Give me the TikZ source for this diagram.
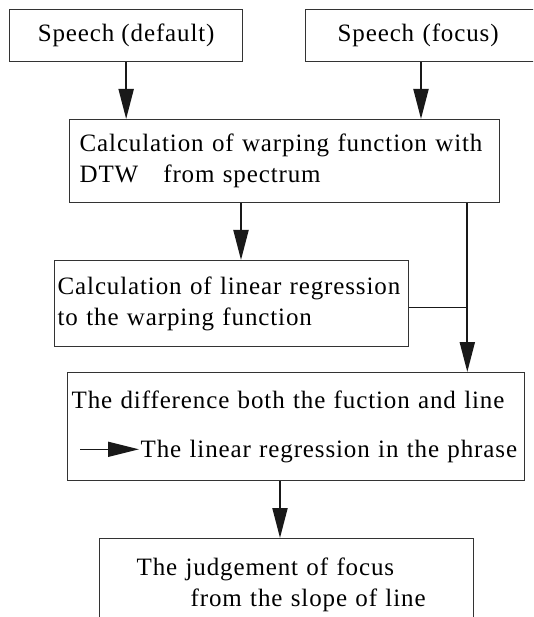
\documentclass[tikz,border=0pt]{standalone}
\usepackage{fontspec}
\setmainfont{Liberation Serif}[LetterSpace=3.5]
\usetikzlibrary{arrows.meta, calc}

\begin{document}
\begin{tikzpicture}[
    x=1pt, y=-1pt,
    every node/.style={font=\fontsize{25}{31}\selectfont},
    flowbox/.style={
        rectangle, draw=black!80, line width=1.3pt,
        anchor=north west, align=left, inner ysep=0pt
    },
    flow/.style={-{Triangle[length=30pt,width=15pt]}, line width=2pt, black!90},
    joinline/.style={line width=1.5pt, black!90}
]
\useasboundingbox (0,0) rectangle (533,617);
\clip (0,0) rectangle (533,617);

% Inputs
\node[flowbox, align=center, minimum width=233pt, minimum height=52pt] (dflt) at (9,9) {Speech (default)};
\node[flowbox, text width=200pt, inner xsep=32pt, minimum height=52pt] (fcs) at (305,9) {Speech (focus)};

% Warping and regression
\node[flowbox, text width=410pt, inner xsep=10pt, minimum height=83pt] (warp) at (69,119)
    {Calculation of warping function with\\DTW\quad from spectrum};
\node[flowbox, text width=348pt, inner xsep=3pt, minimum height=86pt] (linreg) at (54,260)
    {Calculation of linear regression\\to the warping function};

% Difference and judgement
\node[flowbox, text width=449pt, inner xsep=4pt, minimum height=108pt] (diff) at (67,372)
    {The difference both the fuction and line\\[18pt]\hspace*{69pt}The linear regression in the phrase};
\node[flowbox, text width=300pt, inner xsep=37pt, minimum height=92pt] (judge) at (99,538)
    {The judgement of focus\\\hspace*{54pt}from the slope of line};

% Connectors
\coordinate (fcs-out) at ($(fcs.south west)+(116,0)$);
\coordinate (lin-in) at ($(linreg.north west)+(187,0)$);
\coordinate (side) at ($(warp.south east)+(-33,0)$);
\coordinate (lin-out) at ($(linreg.east)+(0,4)$);
\coordinate (judge-in) at ($(judge.north west)+(181,0)$);
\coordinate (ph-a) at ($(diff.south west)+(13,-32)$);
\coordinate (ph-b) at ($(ph-a)+(59,0)$);

\draw[flow] (dflt.south) -- (dflt.south |- warp.north);
\draw[flow] (fcs-out) -- (fcs-out |- warp.north);
\draw[flow] (warp.south -| lin-in) -- (lin-in);
\draw[flow] (side) -- (side |- diff.north);
\draw[joinline] (lin-out) -- (lin-out -| side);
\draw[flow] (diff.south -| judge-in) -- (judge-in);
\draw[flow, line width=1.5pt, -{Triangle[length=31pt,width=15pt]}] (ph-a) -- (ph-b);

\end{tikzpicture}
\end{document}
